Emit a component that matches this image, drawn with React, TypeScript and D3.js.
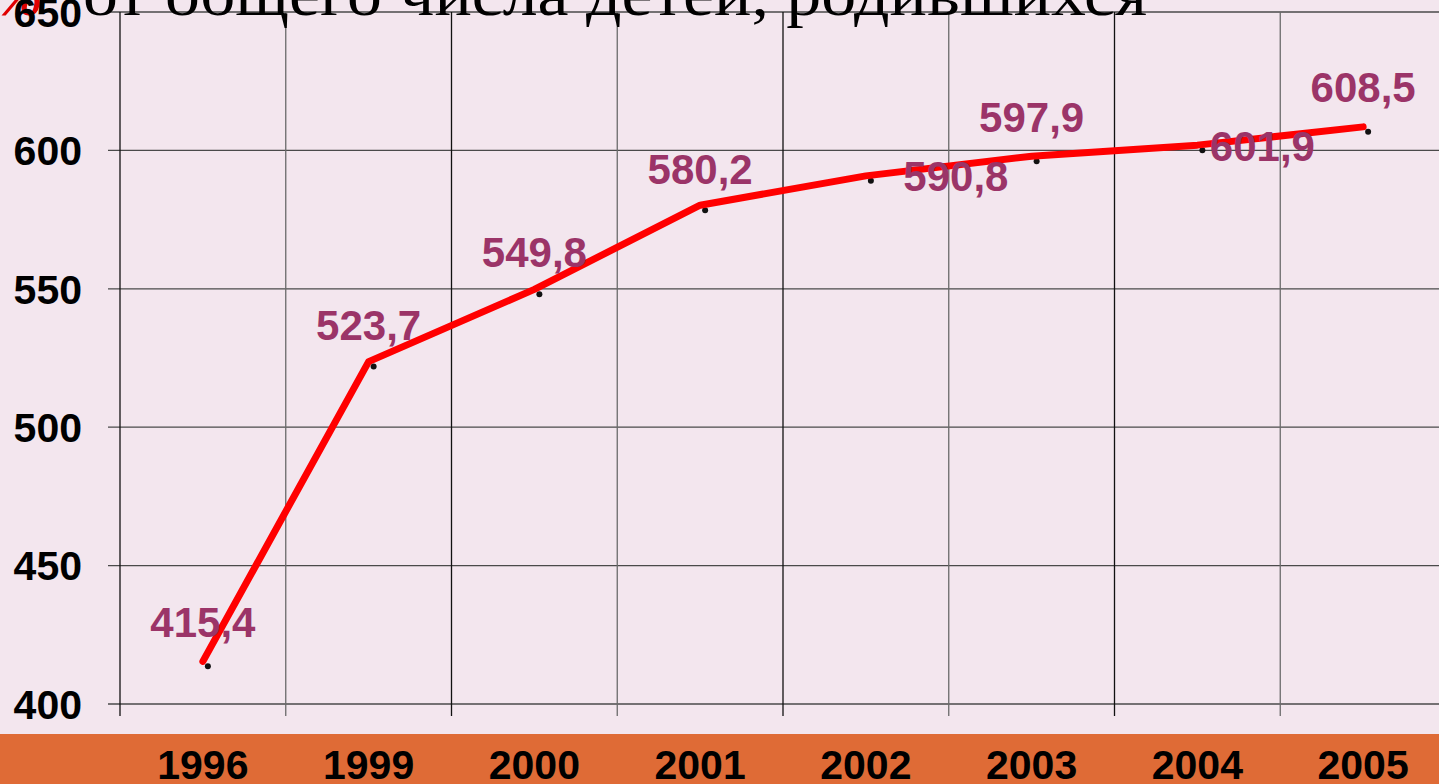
import React, { useEffect, useRef } from "react";
import * as d3 from "d3";

const years = ["1996", "1999", "2000", "2001", "2002", "2003", "2004", "2005"];
const values = [415.4, 523.7, 549.8, 580.2, 590.8, 597.9, 601.9, 608.5];
const yTicks = [400, 450, 500, 550, 600, 650];
// where each value label sits relative to its point (dx, dy)
const labelOffsets = [
  [0, -24], [0, -22], [0, -22], [0, -21], [90, 15], [0, -24], [65, 16], [0, -25],
];

const W = 1439;
const H = 784;

function App() {
  const svgRef = useRef<SVGSVGElement>(null);

  useEffect(() => {
    const svg = d3.select(svgRef.current);
    svg.selectAll("*").remove();

    const x = d3.scaleBand().domain(years).range([120, 1446]);
    const y = d3.scaleLinear().domain([400, 650]).range([704, 12]);
    const cx = (d: string) => (x(d) as number) + x.bandwidth() / 2;

    svg.append("rect").attr("width", W).attr("height", H).attr("fill", "#f3e6ee");

    // orange band under the plot
    svg.append("rect").attr("x", 0).attr("y", 734).attr("width", W).attr("height", 50).attr("fill", "#df6b36");

    const grid = svg.append("g");
    grid
      .selectAll("line.h")
      .data(yTicks)
      .enter()
      .append("line")
      .attr("x1", 108)
      .attr("x2", W)
      .attr("y1", (d) => y(d))
      .attr("y2", (d) => y(d))
      .attr("stroke", "#4a4a4a")
      .attr("stroke-width", 1.3);

    const vlines = [...years.map((d) => x(d) as number), 1446];
    grid
      .selectAll("line.v")
      .data(vlines)
      .enter()
      .append("line")
      .attr("x1", (d) => d)
      .attr("x2", (d) => d)
      .attr("y1", y(650))
      .attr("y2", 716)
      .attr("stroke", (d, i) => (i % 2 ? "#6a6a6a" : "#111"))
      .attr("stroke-width", 1.3);

    // title fragment cut off at the top
    svg
      .append("text")
      .attr("x", -4)
      .attr("y", 15)
      .attr("fill", "#e00000")
      .style("font-family", "'Liberation Serif', serif")
      .style("font-size", "56px")
      .style("font-weight", "bold")
      .style("font-style", "italic")
      .text("%");
    svg
      .append("text")
      .attr("x", 83)
      .attr("y", 15)
      .attr("fill", "#000")
      .attr("textLength", 1064)
      .attr("lengthAdjust", "spacingAndGlyphs")
      .style("font-family", "'Liberation Serif', serif")
      .style("font-size", "62px")
      .text("от общего числа детей, родившихся");

    // y tick labels
    svg
      .selectAll("text.ytick")
      .data(yTicks)
      .enter()
      .append("text")
      .attr("x", 82)
      .attr("y", (d) => y(d))
      .attr("dy", "0.36em")
      .attr("text-anchor", "end")
      .style("font-family", "Arial, 'Liberation Sans', sans-serif")
      .style("font-weight", "bold")
      .style("font-size", "41px")
      .text((d) => d);

    // year labels on the band
    svg
      .selectAll("text.year")
      .data(years)
      .enter()
      .append("text")
      .attr("x", (d) => cx(d))
      .attr("y", 779)
      .attr("text-anchor", "middle")
      .style("font-family", "Arial, 'Liberation Sans', sans-serif")
      .style("font-weight", "bold")
      .style("font-size", "41px")
      .text((d) => d);

    // small shadow dots
    svg
      .selectAll("circle.dot")
      .data(values)
      .enter()
      .append("circle")
      .attr("cx", (d, i) => cx(years[i]) + 5)
      .attr("cy", (d) => y(d) + 5)
      .attr("r", 3)
      .attr("fill", "#111");

    const line = d3
      .line<number>()
      .x((d, i) => cx(years[i]))
      .y((d) => y(d));

    svg
      .append("path")
      .datum(values)
      .attr("d", line)
      .attr("fill", "none")
      .attr("stroke", "#ff0000")
      .attr("stroke-width", 7)
      .attr("stroke-linecap", "round")
      .attr("stroke-linejoin", "round");

    svg
      .selectAll("text.val")
      .data(values)
      .enter()
      .append("text")
      .attr("x", (d, i) => cx(years[i]) + labelOffsets[i][0])
      .attr("y", (d, i) => y(d) + labelOffsets[i][1])
      .attr("text-anchor", "middle")
      .attr("fill", "#9b3468")
      .style("font-family", "Arial, 'Liberation Sans', sans-serif")
      .style("font-weight", "bold")
      .style("font-size", "42px")
      .text((d) => String(d).replace(".", ","));
  }, []);

  return (
    <svg
      ref={svgRef}
      width={W}
      height={H}
      style={{ position: "absolute", left: 0, top: 0, display: "block" }}
    ></svg>
  );
}

export default App;
